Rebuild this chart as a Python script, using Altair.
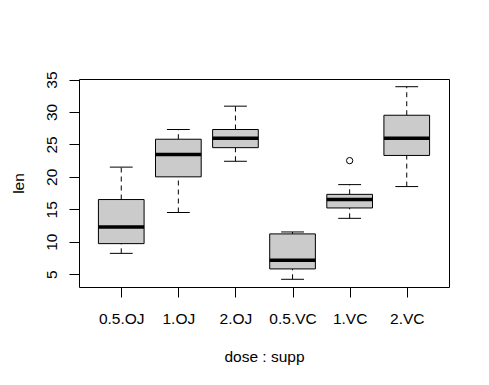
import altair as alt
import pandas as pd

groups = ["0.5.OJ", "1.OJ", "2.OJ", "0.5.VC", "1.VC", "2.VC"]
whisker_lo = [8.2, 14.5, 22.4, 4.2, 13.6, 18.5]
q1 = [9.7, 20.0, 24.5, 5.8, 15.2, 23.3]
median = [12.25, 23.45, 25.95, 7.15, 16.5, 25.95]
q3 = [16.5, 25.8, 27.3, 11.2, 17.3, 29.5]
whisker_hi = [21.5, 27.3, 30.9, 11.5, 18.8, 33.9]
outlier_group = ["1.VC"]
outlier_value = [22.5]
y_ticks = [5, 10, 15, 20, 25, 30, 35]

df = pd.DataFrame({
    "group": groups,
    "pos": list(range(1, len(groups) + 1)),
    "wlo": whisker_lo, "q1": q1, "med": median, "q3": q3, "whi": whisker_hi,
})
out = pd.DataFrame({
    "group": outlier_group,
    "pos": [groups.index(g) + 1 for g in outlier_group],
    "val": outlier_value,
})

FONT = "Liberation Sans"
FS = 15.5
label_expr = "[" + ",".join("'%s'" % g for g in groups) + "][datum.value - 1]"

xscale = alt.Scale(domain=[0.26, 6.74], nice=False, zero=False)
yscale = alt.Scale(domain=[3.012, 35.088], nice=False, zero=False)

xaxis = alt.Axis(values=list(range(1, len(groups) + 1)), labelExpr=label_expr,
                 title="dose : supp", grid=False, domain=False, tickColor="black",
                 tickSize=10, labelColor="black", labelFont=FONT, labelFontSize=FS,
                 labelPadding=14, labelBaseline="top", labelAngle=0,
                 labelOverlap=False, labelBound=False,
                 titleFont=FONT, titleFontSize=FS, titleFontWeight="normal",
                 titleColor="black", titleBaseline="alphabetic", titleAlign="center",
                 titleX=185, titleY=74)
yaxis = alt.Axis(values=y_ticks, title="len", grid=False, domain=False,
                 tickColor="black", tickSize=10, labelColor="black", labelFont=FONT,
                 labelFontSize=FS, labelAngle=270, labelAlign="center",
                 labelBaseline="alphabetic", labelPadding=13,
                 labelOverlap=False, labelBound=False,
                 titleFont=FONT, titleFontSize=FS, titleFontWeight="normal",
                 titleColor="black", titleAngle=270, titleAlign="center",
                 titleBaseline="alphabetic", titleX=-56, titleY=104)


def X(f):
    return alt.X(f, scale=xscale, axis=xaxis)


def Y(f):
    return alt.Y(f, scale=yscale, axis=yaxis)


base = alt.Chart(df).transform_calculate(
    xl="datum.pos - 0.4", xr="datum.pos + 0.4",
    cl="datum.pos - 0.2", cr="datum.pos + 0.2",
)

whisk_up = base.mark_rule(color="black", strokeWidth=1, strokeDash=[5, 4]).encode(
    x=X("pos:Q"), y=Y("q3:Q"), y2="whi:Q",
)
whisk_dn = base.mark_rule(color="black", strokeWidth=1, strokeDash=[5, 4]).encode(
    x=X("pos:Q"), y=Y("wlo:Q"), y2="q1:Q",
)
cap_hi = base.mark_rule(color="black", strokeWidth=1).encode(
    x=X("cl:Q"), x2="cr:Q", y=Y("whi:Q"),
)
cap_lo = base.mark_rule(color="black", strokeWidth=1).encode(
    x=X("cl:Q"), x2="cr:Q", y=Y("wlo:Q"),
)
box = base.mark_rect(fill="#cbcbcb", stroke="black", strokeWidth=1).encode(
    x=X("xl:Q"), x2="xr:Q", y=Y("q1:Q"), y2="q3:Q",
)
med = base.mark_rule(color="black", strokeWidth=3.5, strokeCap="butt").encode(
    x=X("xl:Q"), x2="xr:Q", y=Y("med:Q"),
)
pts = alt.Chart(out).mark_point(shape="circle", size=40, filled=False,
                                color="black", strokeWidth=1, opacity=1).encode(
    x=X("pos:Q"), y=Y("val:Q"),
)

chart = alt.layer(whisk_up, whisk_dn, cap_hi, cap_lo, box, med, pts).properties(
    width=370, height=208,
    autosize=alt.AutoSizeParams(type="none"),
    padding={"left": 71, "top": 71, "right": 32, "bottom": 90},
    background="white",
).configure_view(stroke="black", strokeWidth=1)

chart.save("out.html", embed_options={"renderer": "svg", "actions": False})
